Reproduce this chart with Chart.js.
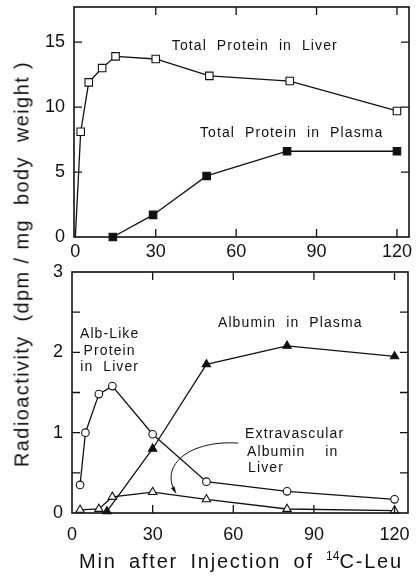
<!DOCTYPE html>
<html>
<head>
<meta charset="utf-8">
<script src="https://cdn.jsdelivr.net/npm/chart.js@4.4.1/dist/chart.umd.min.js"></script>
<style>
  body { margin: 0; background: #fff; width: 417px; height: 578px; position: relative; overflow: hidden; font-family: "Liberation Sans", sans-serif; color: #111; }
  canvas { position: absolute; left: 0; }
  #frames { pointer-events: none; }
  #ytitle { position: absolute; left: 22px; top: 264px; transform: translate(-50%, -50%) rotate(-90deg); white-space: pre; font-size: 20px; letter-spacing: 1.4px; }
  #xtitle { position: absolute; left: 241px; top: 561px; transform: translate(-50%, -50%); white-space: pre; font-size: 20px; letter-spacing: 1.8px; word-spacing: 5px; }
  #xtitle sup { font-size: 12px; letter-spacing: 0; }
</style>
</head>
<body>
<canvas id="topChart" width="417" height="262" style="top:0"></canvas>
<canvas id="bottomChart" width="417" height="290" style="top:262px"></canvas>
<canvas id="frames" width="417" height="578" style="top:0"></canvas>
<div id="ytitle">Radioactivity  (dpm / mg  body  weight )</div>
<div id="xtitle">Min after Injection of <sup>14</sup>C-Leu</div>
<script>
// total protein, upper panel
var liverMin = [0, 2, 5, 10, 15, 30, 50, 80, 120];
var liverTotal = [0, 8.1, 11.9, 13.0, 13.9, 13.7, 12.4, 12.0, 9.7];
var plasmaMin = [14, 29, 49, 79, 120];
var plasmaTotal = [0, 1.7, 4.7, 6.6, 6.6];

// albumin fractions, lower panel
var albLikeMin = [3, 5, 10, 15, 30, 50, 80, 120];
var albLikeLiver = [0.35, 1.0, 1.48, 1.58, 0.98, 0.39, 0.27, 0.17];
var albPlasmaMin = [13, 30, 50, 80, 120];
var albPlasma = [0.02, 0.8, 1.85, 2.08, 1.95];
var extraMin = [3, 10, 15, 30, 50, 80, 120];
var extraLiver = [0.04, 0.05, 0.2, 0.26, 0.17, 0.05, 0.03];

var xTicks = [0, 30, 60, 90, 120];
var topYTicks = [0, 5, 10, 15];
var bottomYTicks = [0, 0.5, 1, 1.5, 2, 2.5, 3];

function pts(xs, ys) {
  return xs.map(function (x, i) { return {x: x, y: ys[i]}; });
}

function series(xs, ys, style, filled, radius) {
  return {
    data: pts(xs, ys),
    borderColor: '#111',
    borderWidth: 1.3,
    pointStyle: style,
    pointRadius: radius,
    pointBorderColor: '#111',
    pointBorderWidth: 1.1,
    pointBackgroundColor: filled ? '#111' : '#fff',
    showLine: true,
    tension: 0,
    clip: false
  };
}

// curve labels and the arrow, placed in data units
var notesPlugin = {
  id: 'notes',
  afterDatasetsDraw: function (chart, args, opts) {
    var ctx = chart.ctx, x = chart.scales.x, y = chart.scales.y;
    ctx.save();
    ctx.globalAlpha = 1;
    ctx.fillStyle = '#111';
    ctx.font = '14px "Liberation Sans"';
    ctx.letterSpacing = '1.1px';
    ctx.textBaseline = 'middle';
    (opts.labels || []).forEach(function (l) {
      ctx.textAlign = l.align || 'left';
      ctx.fillText(l.text, x.getPixelForValue(l.x), y.getPixelForValue(l.y));
    });
    if (opts.arrow) {
      var p = opts.arrow.map(function (q) { return [x.getPixelForValue(q[0]), y.getPixelForValue(q[1])]; });
      ctx.strokeStyle = '#111';
      ctx.lineWidth = 1;
      ctx.setLineDash([]);
      ctx.beginPath();
      ctx.moveTo(p[0][0], p[0][1]);
      ctx.bezierCurveTo(p[1][0], p[1][1], p[2][0], p[2][1], p[3][0], p[3][1]);
      ctx.stroke();
      var ang = Math.atan2(p[3][1] - p[2][1], p[3][0] - p[2][0]);
      ctx.beginPath();
      ctx.moveTo(p[3][0] + 3 * Math.cos(ang), p[3][1] + 3 * Math.sin(ang));
      ctx.lineTo(p[3][0] - 5 * Math.cos(ang - 0.4), p[3][1] - 5 * Math.sin(ang - 0.4));
      ctx.lineTo(p[3][0] - 5 * Math.cos(ang + 0.4), p[3][1] - 5 * Math.sin(ang + 0.4));
      ctx.closePath();
      ctx.fill();
    }
    ctx.restore();
  }
};

function axes(xMin, xMax, yMax, yTicks, yWidth, xHeight, xPad) {
  var tickFont = {family: 'Liberation Sans', size: 18};
  return {
    x: {
      type: 'linear', min: xMin, max: xMax,
      grid: {display: false, drawTicks: false},
      border: {display: false},
      ticks: {color: '#111', font: tickFont, padding: xPad, maxRotation: 0},
      afterBuildTicks: function (s) { s.ticks = xTicks.map(function (v) { return {value: v}; }); },
      afterFit: function (s) { s.height = xHeight; s.paddingLeft = 0; s.paddingRight = 0; }
    },
    y: {
      type: 'linear', min: 0, max: yMax,
      grid: {display: false, drawTicks: false},
      border: {display: false},
      ticks: {
        color: '#111', font: tickFont, padding: 9,
        callback: function (v) { return Number.isInteger(v) ? v : ''; }
      },
      afterBuildTicks: function (s) { s.ticks = yTicks.map(function (v) { return {value: v}; }); },
      afterFit: function (s) { s.width = yWidth; s.paddingTop = 0; s.paddingBottom = 0; }
    }
  };
}

var topChart = new Chart(document.getElementById('topChart').getContext('2d'), {
  type: 'scatter',
  data: {
    datasets: [
      series(liverMin, liverTotal, 'rect', false, [0, 5.3, 5.3, 5.3, 5.3, 5.3, 5.3, 5.3, 5.3]),
      series(plasmaMin, plasmaTotal, 'rect', true, 5.3)
    ]
  },
  options: {
    responsive: false,
    animation: false,
    layout: {padding: {top: 7, right: 8, left: 0, bottom: 0}},
    plugins: {
      legend: {display: false},
      tooltip: {enabled: false},
      notes: {
        labels: [
          {text: 'Total  Protein  in  Liver', x: 36, y: 14.7},
          {text: 'Total  Protein  in  Plasma', x: 46.5, y: 8.0}
        ]
      }
    },
    scales: axes(-0.5, 124.5, 17.7, topYTicks, 74, 25, 4)
  },
  plugins: [notesPlugin]
});

var bottomChart = new Chart(document.getElementById('bottomChart').getContext('2d'), {
  type: 'scatter',
  data: {
    datasets: [
      series(albLikeMin, albLikeLiver, 'circle', false, 3.8),
      series(extraMin, extraLiver, 'triangle', false, 4.8),
      series(albPlasmaMin, albPlasma, 'triangle', true, 4.8)
    ]
  },
  options: {
    responsive: false,
    animation: false,
    layout: {padding: {top: 10, right: 9, left: 0, bottom: 0}},
    plugins: {
      legend: {display: false},
      tooltip: {enabled: false},
      notes: {
        labels: [
          {text: 'Albumin  in  Plasma', x: 54.3, y: 2.36},
          {text: 'Alb-Like', x: 14, y: 2.23, align: 'center'},
          {text: 'Protein', x: 14, y: 2.02, align: 'center'},
          {text: 'in  Liver', x: 14, y: 1.82, align: 'center'},
          {text: 'Extravascular', x: 64.4, y: 0.98},
          {text: 'Albumin    in', x: 65.1, y: 0.76},
          {text: 'Liver', x: 65.5, y: 0.56}
        ],
        arrow: [[61.8, 0.87], [43.9, 0.91], [32.7, 0.6], [38.3, 0.27]]
      }
    },
    scales: axes(0, 125, 3, bottomYTicks, 72, 39, 11)
  },
  plugins: [notesPlugin]
});

// box round each plot with short inward tick marks, on a canvas laid over both charts
var fctx = document.getElementById('frames').getContext('2d');
[[topChart, 0], [bottomChart, 262]].forEach(function (c) {
  var chart = c[0], a = chart.chartArea, x = chart.scales.x, y = chart.scales.y;
  fctx.save();
  fctx.translate(0, c[1]);
  fctx.strokeStyle = '#111';
  fctx.lineWidth = 1.6;
  fctx.strokeRect(a.left, a.top, a.right - a.left, a.bottom - a.top);
  fctx.lineWidth = 1.3;
  fctx.beginPath();
  x.ticks.forEach(function (t) {
    var px = x.getPixelForValue(t.value);
    if (px < a.left + 3 || px > a.right - 3) return;
    fctx.moveTo(px, a.top); fctx.lineTo(px, a.top + 8);
    fctx.moveTo(px, a.bottom); fctx.lineTo(px, a.bottom - 8);
  });
  y.ticks.forEach(function (t) {
    var py = y.getPixelForValue(t.value);
    if (py < a.top + 3 || py > a.bottom - 3) return;
    fctx.moveTo(a.left, py); fctx.lineTo(a.left + 8, py);
    fctx.moveTo(a.right, py); fctx.lineTo(a.right - 8, py);
  });
  fctx.stroke();
  fctx.restore();
});
</script>
</body>
</html>
